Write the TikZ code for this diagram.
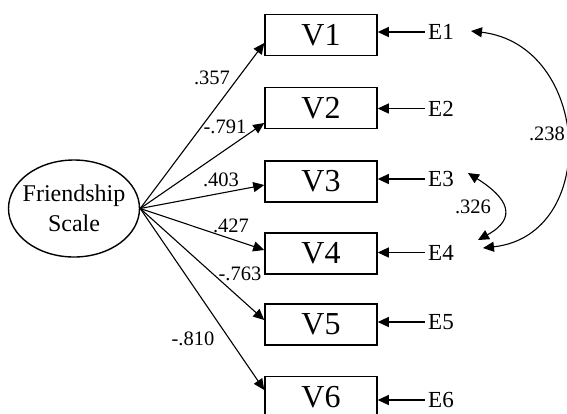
\documentclass[tikz,border=0pt]{standalone}
\usepackage{fontspec}
\setmainfont{Liberation Serif}
\usetikzlibrary{arrows.meta,shapes.geometric}
\tikzset{
  vbox/.style={draw, line width=1.5pt, rectangle, inner sep=0pt, minimum width=112pt, minimum height=41pt, font=\fontsize{32}{38}\selectfont},
  elab/.style={inner sep=3pt, font=\fontsize{23}{27}\selectfont},
  coef/.style={inner sep=0pt, font=\fontsize{20.5}{24}\selectfont},
  latent/.style={draw, ellipse, line width=1.4pt, minimum width=131pt, minimum height=97pt, inner xsep=-6pt, inner ysep=0pt, align=center, font=\fontsize{24}{30}\selectfont},
  arr/.style={line width=1.1pt, -{Triangle[length=11pt,width=10pt]}},
  darr/.style={line width=1.1pt, {Triangle[length=11pt,width=10pt]}-{Triangle[length=11pt,width=10pt]}}
}
\begin{document}
\begin{tikzpicture}[x=1pt,y=1pt]
\useasboundingbox[fill=white] (0,0) rectangle (567,-413);
\node[latent] (F) at (74,-208.5) {Friendship\\Scale};
\node[vbox] (V1) at (321,-35) {V1};
\node[vbox] (V2) at (321,-108) {V2};
\node[vbox] (V3) at (321,-181.5) {V3};
\node[vbox] (V4) at (321,-253.5) {V4};
\node[vbox] (V5) at (321,-324.5) {V5};
\node[vbox] (V6) at (321,-397) {V6};
\node[elab] (E1) at (441,-32) {E1};
\node[elab] (E2) at (441,-108.5) {E2};
\node[elab] (E3) at (441,-179) {E3};
\node[elab] (E4) at (441,-252.5) {E4};
\node[elab] (E5) at (441,-322) {E5};
\node[elab] (E6) at (441,-400) {E6};
\draw[arr] (F.east) -- ([yshift=-8pt]V1.west);
\draw[arr] (F.east) -- ([yshift=-15pt]V2.west);
\draw[arr] (F.east) -- ([yshift=-3.5pt]V3.west);
\draw[arr] (F.east) -- ([yshift=3.5pt]V4.west);
\draw[arr] (F.east) -- ([yshift=4.5pt]V5.west);
\draw[arr] (F.east) -- ([yshift=7pt]V6.west);
\foreach \i in {1,...,6}{
  \draw[arr] (E\i.west) -- (V\i.east |- E\i.west);
}
\coordinate (a1) at ([xshift=14pt,yshift=1pt]E1.east);
\coordinate (a4) at ([xshift=26pt,yshift=4.5pt]E4.east);
\draw[darr] (a1) .. controls +(120,-14) and +(118,13) .. (a4);
\coordinate (b3) at ([xshift=11pt,yshift=6pt]E3.east);
\coordinate (b4) at ([xshift=21pt,yshift=12.5pt]E4.east);
\draw[darr] (b3) .. controls +(40,-25) and +(40,22) .. (b4);
\node[coef] (c238) at (547,-134) {.238};
\node[coef] (c326) at (473,-207) {.326};
\node[coef] (c1) at (212,-78) {.357};
\node[coef] (c2) at (225,-127) {-.791};
\node[coef] (c3) at (221,-180) {.403};
\node[coef] (c4) at (231,-226) {.427};
\node[coef] (c5) at (240,-274) {-.763};
\node[coef] (c6) at (193,-339) {-.810};
\end{tikzpicture}
\end{document}
